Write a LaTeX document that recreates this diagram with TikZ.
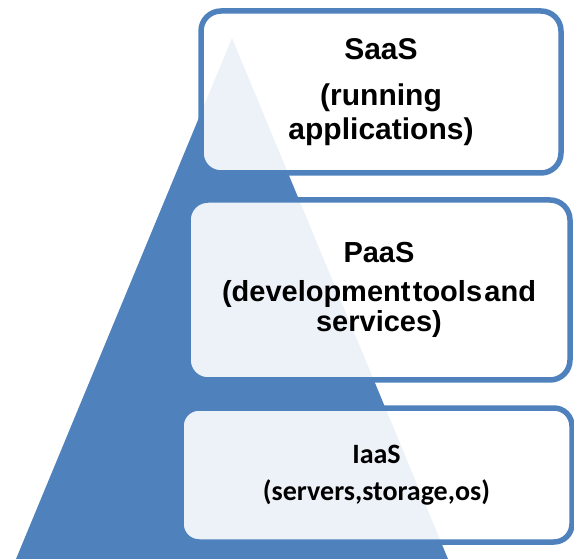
\documentclass[tikz,border=0pt]{standalone}
\usepackage{fontspec}
\setmainfont{Liberation Sans}
\newfontfamily\carl{Carlito}
\definecolor{cblue}{HTML}{4F81BD}
\begin{document}
\begin{tikzpicture}[x=1pt,y=-1pt,
  layerbox/.style={draw=cblue, line width=5.5pt, rounded corners=20pt,
    fill=white, fill opacity=0.9, text opacity=1, align=center, inner sep=0pt},
]
\useasboundingbox (0,0) rectangle (574,559);
\fill[cblue] (232,38) -- (16,559) -- (448,559) -- cycle;
\node[layerbox, minimum width=360pt, minimum height=162pt,
  font={\fontsize{30}{34}\selectfont\bfseries}] (saas) at (381,92)
  {SaaS\\[12pt](running\\applications)};
\node[layerbox, minimum width=382pt, minimum height=180pt,
  font={\fontsize{29}{30}\selectfont\bfseries\spaceskip=0.08em\relax}] (paas) at (379,290)
  {PaaS\\[9pt](development tools and\\services)};
\node[layerbox, minimum width=391pt, minimum height=134pt, rounded corners=18pt,
  font={\carl\fontsize{28}{37}\selectfont\bfseries}] (iaas) at (376.5,475)
  {IaaS\\(servers,storage,os)};
\end{tikzpicture}
\end{document}
